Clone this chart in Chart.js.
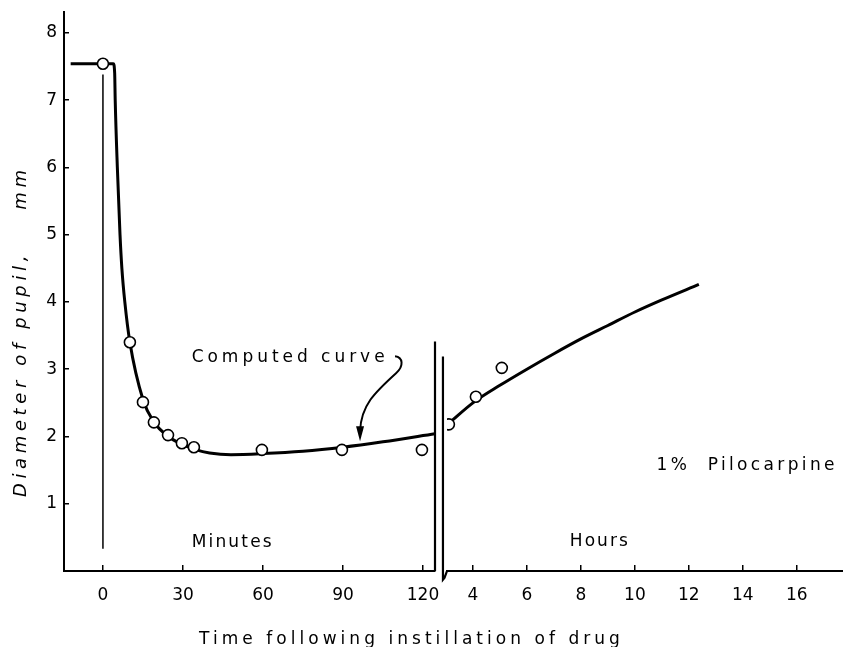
<!DOCTYPE html>
<html>
<head>
<meta charset="utf-8">
<script src="https://cdn.jsdelivr.net/npm/chart.js@4.4.1/dist/chart.umd.min.js"></script>
<style>
html,body{margin:0;padding:0;background:#fff;overflow:hidden;}
#wrap{position:relative;width:843px;height:647px;}
</style>
</head>
<body>
<div id="wrap"><canvas id="chart"></canvas></div>
<script>
// ---------- data ----------
const yTickValues = [1, 2, 3, 4, 5, 6, 7, 8];
const minuteTickValues = [0, 30, 60, 90, 120];
const hourTickValues = [4, 6, 8, 10, 12, 14, 16];

// computed curve, minutes part (x: minutes, y: mm)
const curveMinutes   = [-12.1, 3.9, 4.4, 4.6, 5.4, 6.4, 7.1, 8.2, 10.1, 15, 19, 24.5, 30, 35, 40, 48, 60, 75, 90, 105, 124.5];
const curveMinutesMm = [7.54, 7.54, 7.4, 7.0, 6.0, 5.0, 4.5, 4.0, 3.4, 2.55, 2.22, 2.0, 1.88, 1.8, 1.755, 1.73, 1.745, 1.78, 1.84, 1.92, 2.04];
// computed curve, hours part (x: hours, y: mm)
const curveHours   = [3.12, 4, 5, 6, 7, 8, 9, 10, 11, 12.37];
const curveHoursMm = [2.2, 2.5, 2.76, 3.0, 3.23, 3.45, 3.65, 3.85, 4.03, 4.26];
// observed pupil diameters
const obsMinutes   = [0, 10.1, 15, 19.1, 24.4, 29.6, 34.1, 59.6, 89.6, 119.6];
const obsMinutesMm = [7.54, 3.40, 2.51, 2.21, 2.02, 1.90, 1.84, 1.80, 1.80, 1.80];
const obsHours     = [3.11, 4.11, 5.07];
const obsHoursMm   = [2.18, 2.59, 3.02];
// instillation marker and axis-break marks
const instillMinutes = [0, 0];
const instillMm      = [7.38, 0.33];
const breakMinutes   = [124.5, 124.5];
const breakMinutesMm = [3.41, 0];
const breakHours     = [3.04, 2.95, 2.89, 2.89];
const breakHoursMm   = [0, -0.1, -0.13, 3.19];

// ---------- layout / styling ----------
const FONT = '"DejaVu Sans", "Liberation Sans", sans-serif';
const annotations = [
  {text: 'Computed curve', axis: 'xm', x: 33.26, y: 3.105, width: 193},
  {text: 'Minutes',        axis: 'xm', x: 33.26, y: 0.357, width: 80},
  {text: 'Hours',          axis: 'xh', x: 7.59,  y: 0.371, width: 58},
  {text: '1%  Pilocarpine', axis: 'xh', x: 10.8, y: 1.50,  width: 178}
];
const arrowTip = {x: 96.4, y: 1.93};
const xTitle = 'Time following instillation of drug';
const yTitle = 'Diameter of pupil,    mm';

const pts = (xs, ys) => xs.map((x, i) => ({x: x, y: ys[i]}));

function fillSpaced(ctx, text, x, y, width) {
  ctx.letterSpacing = '0px';
  const natural = ctx.measureText(text).width;
  const gaps = Math.max(text.length - 1, 1);
  ctx.letterSpacing = ((width - natural) / gaps).toFixed(2) + 'px';
  ctx.fillText(text, x, y);
  ctx.letterSpacing = '0px';
}

const annotPlugin = {
  id: 'annot',
  afterDatasetsDraw(chart) {
    const {ctx, scales, chartArea} = chart;
    ctx.save();
    ctx.fillStyle = '#000';
    ctx.strokeStyle = '#000';
    ctx.textAlign = 'left';
    ctx.textBaseline = 'alphabetic';
    ctx.font = '17px ' + FONT;
    annotations.forEach(a => {
      const px = scales[a.axis].getPixelForValue(a.x);
      const py = scales.y.getPixelForValue(a.y);
      fillSpaced(ctx, a.text, px, py, a.width);
    });
    // arrow from the label to the curve
    const tx = scales.xm.getPixelForValue(arrowTip.x);
    const ty = scales.y.getPixelForValue(arrowTip.y);
    ctx.lineWidth = 2;
    ctx.beginPath();
    ctx.moveTo(tx + 35, ty - 85);
    ctx.bezierCurveTo(tx + 43, ty - 84, tx + 44, ty - 75, tx + 36, ty - 68);
    ctx.bezierCurveTo(tx + 15, ty - 49, tx + 1, ty - 36, tx, ty - 10);
    ctx.stroke();
    ctx.beginPath();
    ctx.moveTo(tx, ty);
    ctx.lineTo(tx - 4, ty - 15);
    ctx.lineTo(tx + 4, ty - 15);
    ctx.closePath();
    ctx.fill();
    // x axis title
    ctx.font = '17px ' + FONT;
    fillSpaced(ctx, xTitle, chartArea.left + 135, chartArea.bottom + 73, 421);
    // y axis title
    ctx.save();
    ctx.translate(chartArea.left - 38, chartArea.bottom - 74);
    ctx.rotate(-Math.PI / 2);
    ctx.font = 'italic 18px ' + FONT;
    fillSpaced(ctx, yTitle, 0, 0, 327);
    ctx.restore();
    ctx.restore();
  }
};

const tickFont = {family: FONT, size: 17};
const xGrid = {display: true, drawOnChartArea: false, color: '#000', lineWidth: 1.5, tickLength: -6};
const xBorder = {display: true, color: '#000', width: 2};
const fixX = s => { s.height = 76; s.paddingLeft = 0; s.paddingRight = 0; };

const lineDs = (data, axis, width, extra) => Object.assign({
  data: data, xAxisID: axis, yAxisID: 'y', showLine: true, pointRadius: 0,
  borderColor: '#000', backgroundColor: '#000', borderWidth: width, fill: false, order: 2
}, extra || {});
const pointDs = (data, axis) => ({
  data: data, xAxisID: axis, yAxisID: 'y', showLine: false, pointRadius: 5.5,
  pointBackgroundColor: '#fff', pointBorderColor: '#000', pointBorderWidth: 1.6, order: 0
});

new Chart(document.getElementById('chart'), {
  type: 'scatter',
  data: {
    datasets: [
      pointDs(pts(obsMinutes, obsMinutesMm), 'xm'),
      pointDs(pts(obsHours, obsHoursMm), 'xh'),
      lineDs(pts(curveMinutes, curveMinutesMm), 'xm', 3, {cubicInterpolationMode: 'monotone', clip: false}),
      lineDs(pts(curveHours, curveHoursMm), 'xh', 3, {cubicInterpolationMode: 'monotone'}),
      lineDs(pts(instillMinutes, instillMm), 'xm', 1.5),
      lineDs(pts(breakMinutes, breakMinutesMm), 'xm', 2.2, {clip: false}),
      lineDs(pts(breakHours, breakHoursMm), 'xh', 2.2, {clip: false})
    ]
  },
  options: {
    responsive: true,
    maintainAspectRatio: false,
    animation: false,
    events: [],
    devicePixelRatio: 1,
    layout: {autoPadding: false, padding: {top: 12, right: 0, bottom: 0, left: 0}},
    plugins: {legend: {display: false}, tooltip: {enabled: false}, title: {display: false}},
    scales: {
      xm: {
        type: 'linear', axis: 'x', position: 'bottom', stack: 'x', stackWeight: 371, weight: 1,
        min: -14.6, max: 124.5,
        afterBuildTicks: s => { s.ticks = minuteTickValues.map(v => ({value: v})); },
        afterFit: fixX,
        ticks: {color: '#000', font: tickFont, padding: 20, maxRotation: 0, autoSkip: false},
        grid: xGrid, border: xBorder
      },
      xg: {
        type: 'linear', axis: 'x', position: 'bottom', stack: 'x', stackWeight: 12, weight: 2,
        min: 0, max: 1,
        afterFit: fixX,
        ticks: {display: false}, grid: {display: false}, border: {display: false}
      },
      xh: {
        type: 'linear', axis: 'x', position: 'bottom', stack: 'x', stackWeight: 396, weight: 3,
        min: 3.04, max: 17.71,
        afterBuildTicks: s => { s.ticks = hourTickValues.map(v => ({value: v})); },
        afterFit: fixX,
        ticks: {color: '#000', font: tickFont, padding: 20, maxRotation: 0, autoSkip: false},
        grid: xGrid, border: xBorder
      },
      y: {
        type: 'linear', position: 'left', min: 0, max: 8.31,
        afterBuildTicks: s => { s.ticks = yTickValues.map(v => ({value: v})); },
        afterFit: s => { s.width = 64; s.paddingTop = 0; s.paddingBottom = 0; },
        ticks: {color: '#000', font: tickFont, padding: 12, autoSkip: false},
        grid: {display: true, drawOnChartArea: false, color: '#000', lineWidth: 1.5, tickLength: -5},
        border: {display: true, color: '#000', width: 2}
      }
    }
  },
  plugins: [annotPlugin]
});
</script>
</body>
</html>
